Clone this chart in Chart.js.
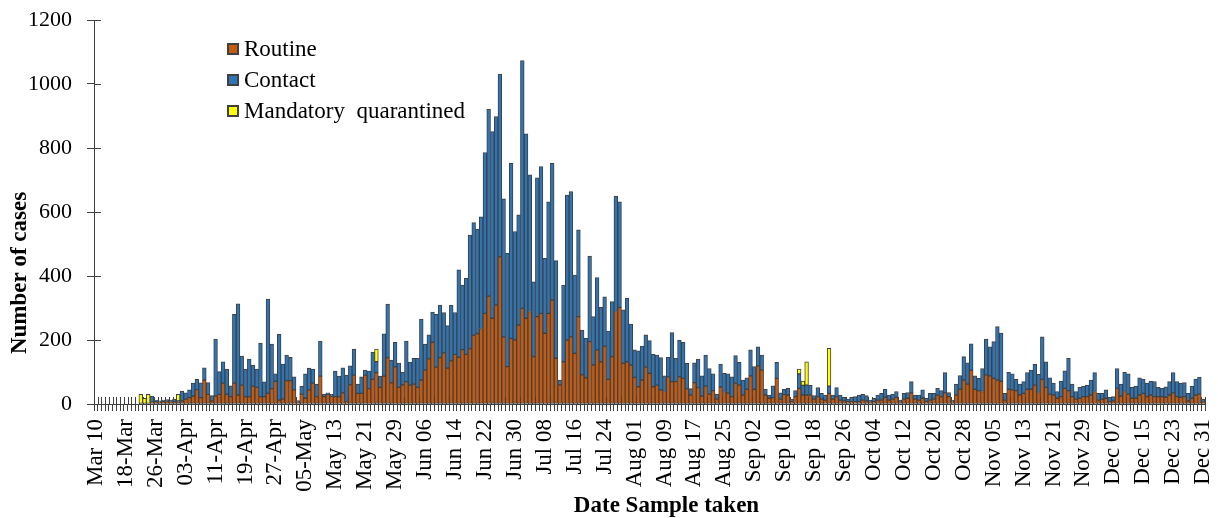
<!DOCTYPE html>
<html>
<head>
<meta charset="utf-8">
<title>Number of cases by date sample taken</title>
<script src="https://cdn.jsdelivr.net/npm/chart.js@4.4.1/dist/chart.umd.min.js"></script>
<style>
  html, body { margin: 0; padding: 0; background: #fff; }
  #wrap { position: relative; width: 1218px; height: 518px; }
  #legend { position: absolute; left: 227px; top: 33px; font-family: "Liberation Serif", "Times New Roman", serif; font-size: 23px; color: #000; }
  #legend .row { height: 31px; display: flex; align-items: center; white-space: pre; }
  #legend .box { width: 8px; height: 8px; border: 2px solid #404040; margin-right: 5px; }
</style>
</head>
<body>
<div id="wrap">
  <canvas id="chart" width="1218" height="518"></canvas>
  <div id="legend"></div>
</div>
<script>
// daily counts, Mar 10 .. Dec 31 (297 days)
var routine = [
  0, 0, 0, 0, 0, 0, 0, 0, 0, 0,
  0, 0, 0, 0, 0, 5, 8, 6, 8, 10,
  6, 8, 5, 10, 15, 20, 25, 45, 20, 75,
  30, 10, 25, 30, 65, 30, 23, 65, 28, 59,
  23, 23, 56, 52, 23, 23, 33, 48, 71, 12,
  15, 73, 73, 44, 5, 31, 18, 44, 65, 23,
  87, 23, 30, 25, 23, 23, 35, 7, 60, 90,
  33, 33, 90, 48, 77, 98, 52, 87, 144, 66,
  116, 52, 60, 70, 59, 62, 52, 75, 106, 141,
  193, 115, 145, 160, 112, 135, 155, 146, 170, 155,
  173, 215, 220, 236, 283, 337, 268, 309, 460, 210,
  117, 205, 200, 247, 299, 268, 289, 148, 273, 283,
  221, 283, 325, 143, 60, 132, 200, 210, 158, 273,
  91, 82, 195, 122, 169, 132, 181, 77, 148, 289,
  302, 127, 132, 122, 83, 54, 75, 115, 96, 54,
  59, 44, 39, 85, 70, 70, 85, 80, 48, 28,
  67, 51, 25, 56, 31, 42, 15, 53, 39, 34,
  23, 65, 59, 28, 46, 88, 46, 119, 106, 28,
  18, 20, 80, 15, 30, 28, 7, 23, 49, 28,
  28, 28, 15, 23, 15, 12, 33, 15, 23, 12,
  10, 7, 7, 7, 7, 12, 10, 6, 7, 12,
  12, 21, 12, 15, 21, 6, 15, 18, 35, 15,
  12, 18, 8, 12, 15, 28, 23, 35, 23, 6,
  28, 46, 75, 62, 106, 46, 42, 39, 91, 88,
  80, 75, 71, 12, 46, 44, 42, 28, 33, 46,
  46, 59, 36, 77, 52, 31, 28, 18, 23, 49,
  42, 23, 15, 18, 23, 23, 28, 39, 12, 15,
  18, 7, 10, 49, 25, 39, 31, 18, 18, 28,
  33, 23, 28, 23, 23, 23, 21, 28, 35, 23,
  21, 23, 10, 18, 28, 31, 5
];
var contact = [
  0, 0, 0, 0, 0, 0, 0, 0, 0, 0,
  0, 0, 0, 0, 0, 20, 4, 4, 4, 4,
  6, 7, 5, 30, 20, 24, 40, 32, 46, 38,
  37, 16, 178, 71, 67, 79, 34, 215, 285, 91,
  86, 117, 66, 57, 167, 46, 295, 139, 23, 206,
  110, 80, 73, 41, 6, 25, 76, 68, 44, 39,
  110, 8, 5, 5, 80, 64, 78, 83, 59, 82,
  29, 52, 16, 55, 85, 34, 35, 132, 168, 71,
  77, 76, 40, 127, 72, 81, 91, 190, 81, 75,
  94, 165, 164, 126, 133, 174, 131, 273, 202, 238,
  355, 352, 327, 349, 503, 585, 583, 589, 571, 431,
  354, 547, 339, 344, 774, 576, 427, 234, 434, 459,
  234, 349, 427, 305, 15, 240, 453, 454, 245, 271,
  140, 123, 267, 151, 226, 170, 154, 151, 172, 361,
  330, 167, 198, 128, 86, 112, 106, 101, 102, 101,
  94, 101, 49, 61, 153, 73, 115, 113, 79, 20,
  62, 89, 63, 97, 80, 52, 16, 72, 57, 60,
  62, 86, 71, 47, 36, 81, 71, 60, 47, 19,
  10, 37, 50, 20, 16, 21, 8, 19, 45, 30,
  31, 30, 11, 28, 18, 16, 23, 13, 28, 16,
  11, 8, 14, 16, 21, 18, 16, 6, 11, 16,
  21, 25, 16, 16, 18, 6, 18, 18, 35, 13,
  16, 26, 10, 21, 18, 21, 19, 63, 13, 6,
  34, 43, 73, 67, 82, 42, 38, 72, 112, 91,
  115, 167, 151, 21, 53, 50, 35, 34, 37, 52,
  60, 65, 57, 133, 80, 51, 37, 21, 49, 55,
  101, 39, 24, 34, 33, 36, 47, 59, 21, 18,
  26, 14, 13, 62, 37, 60, 63, 34, 38, 54,
  45, 42, 44, 47, 29, 26, 33, 42, 63, 47,
  44, 44, 23, 38, 50, 53, 10
];
var quarantined = [
  0, 0, 0, 0, 0, 0, 0, 0, 0, 0,
  0, 0, 30, 18, 30, 0, 0, 0, 0, 0,
  0, 0, 20, 0, 0, 0, 0, 0, 0, 0,
  0, 0, 0, 0, 0, 0, 0, 0, 0, 0,
  0, 0, 0, 0, 0, 0, 0, 0, 0, 0,
  0, 0, 0, 0, 0, 0, 0, 0, 0, 0,
  0, 0, 0, 0, 0, 0, 0, 0, 0, 0,
  0, 0, 0, 0, 0, 40, 0, 0, 0, 0,
  0, 0, 0, 0, 0, 0, 0, 0, 0, 0,
  0, 0, 0, 0, 0, 0, 0, 0, 0, 0,
  0, 0, 0, 0, 0, 0, 0, 0, 0, 0,
  0, 0, 0, 0, 0, 0, 0, 0, 0, 0,
  0, 0, 0, 0, 0, 0, 0, 0, 0, 0,
  0, 0, 0, 0, 0, 0, 0, 0, 0, 0,
  0, 0, 0, 0, 0, 0, 0, 0, 0, 0,
  0, 0, 0, 0, 0, 0, 0, 0, 0, 0,
  0, 0, 0, 0, 0, 0, 0, 0, 0, 0,
  0, 0, 0, 0, 0, 0, 0, 0, 0, 0,
  0, 0, 0, 0, 0, 0, 0, 0, 15, 14,
  73, 0, 0, 0, 0, 0, 118, 0, 0, 0,
  0, 0, 0, 0, 0, 0, 0, 0, 0, 0,
  0, 0, 0, 0, 0, 0, 0, 0, 0, 0,
  0, 0, 0, 0, 0, 0, 0, 0, 0, 0,
  0, 0, 0, 0, 0, 0, 0, 0, 0, 0,
  0, 0, 0, 0, 0, 0, 0, 0, 0, 0,
  0, 0, 0, 0, 0, 0, 0, 0, 0, 0,
  0, 0, 0, 0, 0, 0, 0, 0, 0, 0,
  0, 0, 0, 0, 0, 0, 0, 0, 0, 0,
  0, 0, 0, 0, 0, 0, 0, 0, 0, 0,
  0, 0, 0, 0, 0, 0, 0
];
// every 8th day gets a label, written as in the original
var tickLabels = ["Mar 10", "18-Mar", "26-Mar", "03-Apr", "11-Apr", "19-Apr", "27-Apr", "05-May",
  "May 13", "May 21", "May 29", "Jun 06", "Jun 14", "Jun 22", "Jun 30", "Jul 08", "Jul 16",
  "Jul 24", "Aug 01", "Aug 09", "Aug 17", "Aug 25", "Sep 02", "Sep 10", "Sep 18", "Sep 26",
  "Oct 04", "Oct 12", "Oct 20", "Oct 28", "Nov 05", "Nov 13", "Nov 21", "Nov 29", "Dec 07",
  "Dec 15", "Dec 23", "Dec 31"];
var yTicks = [0, 200, 400, 600, 800, 1000, 1200];

var months = ["Jan", "Feb", "Mar", "Apr", "May", "Jun", "Jul", "Aug", "Sep", "Oct", "Nov", "Dec"];
var days = [];
for (var d = new Date(2020, 2, 10); d <= new Date(2020, 11, 31); d.setDate(d.getDate() + 1)) {
  days.push(months[d.getMonth()] + " " + d.getDate());
}

var axisColor = "#404040";
var serif = '"Liberation Serif", "Times New Roman", serif';

// short tick marks on the inner side of both axes (Excel "cross" ticks)
var crossTicks = {
  id: "crossTicks",
  beforeDatasetsDraw: function (chart) {
    var ctx = chart.ctx, xs = chart.scales.x, ys = chart.scales.y;
    var half = (xs.getPixelForValue(1) - xs.getPixelForValue(0)) / 2;
    ctx.save();
    ctx.strokeStyle = axisColor;
    ctx.lineWidth = 1;
    ctx.beginPath();
    for (var i = 0; i <= days.length; i++) {
      var px = Math.round(xs.getPixelForValue(0) - half + i * 2 * half) + 0.5;
      ctx.moveTo(px, ys.bottom);
      ctx.lineTo(px, ys.bottom - 7);
    }
    ys.ticks.forEach(function (t) {
      var py = Math.round(ys.getPixelForValue(t.value)) + 0.5;
      ctx.moveTo(xs.left, py);
      ctx.lineTo(xs.left + 7, py);
    });
    ctx.stroke();
    ctx.restore();
  }
};

var axisTitles = {
  id: "axisTitles",
  afterDraw: function (chart) {
    var ctx = chart.ctx, a = chart.chartArea;
    ctx.save();
    ctx.fillStyle = "#000";
    ctx.font = "bold 23px " + serif;
    ctx.textAlign = "center";
    ctx.textBaseline = "middle";
    ctx.fillText("Date Sample taken", (a.left + a.right) / 2 + 17, 506);
    ctx.translate(20, 273);
    ctx.rotate(-Math.PI / 2);
    ctx.fillText("Number of cases", 0, 0);
    ctx.restore();
  }
};

function makeSet(label, data, fill) {
  return {
    label: label,
    data: data,
    backgroundColor: fill,
    borderColor: axisColor,
    borderWidth: 1,
    borderSkipped: false,
    barPercentage: 1,
    categoryPercentage: 1
  };
}

var chart = new Chart(document.getElementById("chart").getContext("2d"), {
  type: "bar",
  data: {
    labels: days,
    datasets: [
      makeSet("Routine", routine, "#C55A11"),
      makeSet("Contact", contact, "#2E75B6"),
      makeSet("Mandatory  quarantined", quarantined, "#FFFF00")
    ]
  },
  options: {
    responsive: false,
    animation: false,
    layout: { padding: { top: 20, right: 13, bottom: 0, left: 0 } },
    plugins: { legend: { display: false }, tooltip: { enabled: false } },
    scales: {
      x: {
        stacked: true,
        grid: { drawOnChartArea: false, tickLength: 7, color: axisColor, offset: true },
        border: { color: axisColor, width: 1 },
        ticks: {
          autoSkip: false,
          minRotation: 90,
          maxRotation: 90,
          padding: 8,
          color: "#000",
          font: { family: serif, size: 23 },
          callback: function (v, i) { return i % 8 === 0 ? tickLabels[i / 8] : ""; }
        },
        afterFit: function (s) { s.height = 114; s.paddingLeft = 0; s.paddingRight = 0; }
      },
      y: {
        stacked: true,
        min: 0,
        max: 1200,
        grid: { drawOnChartArea: false, tickLength: 7, color: axisColor },
        border: { color: axisColor, width: 1 },
        afterBuildTicks: function (s) { s.ticks = yTicks.map(function (v) { return { value: v }; }); },
        ticks: {
          padding: 15,
          color: "#000",
          font: { family: serif, size: 22 },
          callback: function (v) { return String(v); }
        },
        afterFit: function (s) { s.width = 94; s.paddingTop = 0; s.paddingBottom = 0; }
      }
    }
  },
  plugins: [crossTicks, axisTitles]
});

// legend drawn as html so it can sit inside the plot like the original
var legend = document.getElementById("legend");
chart.data.datasets.forEach(function (ds) {
  var row = document.createElement("div");
  row.className = "row";
  var box = document.createElement("span");
  box.className = "box";
  box.style.background = ds.backgroundColor;
  row.appendChild(box);
  row.appendChild(document.createTextNode(ds.label));
  legend.appendChild(row);
});
</script>
</body>
</html>
